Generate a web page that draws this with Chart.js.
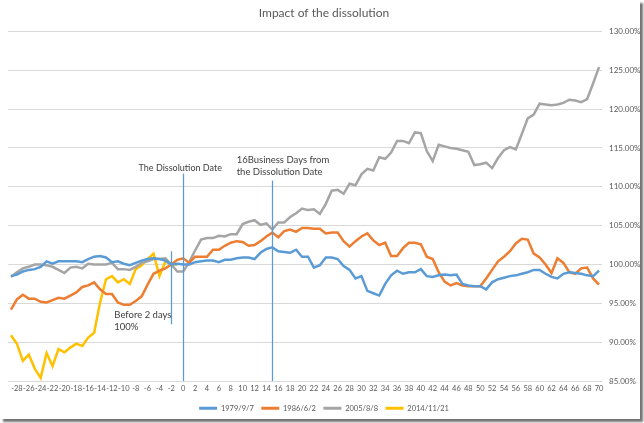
<!DOCTYPE html>
<html>
<head>
<meta charset="utf-8">
<script src="https://cdn.jsdelivr.net/npm/chart.js@4.4.0/dist/chart.umd.min.js"></script>
<style>
  body { margin: 0; background: #fff; }
  #wrap { position: relative; width: 644px; height: 423px; background: #fff; }
  #frame { position: absolute; left: 0; top: 0; width: 640px; height: 419px; box-shadow: 3px 3px 2px rgba(0,0,0,0.55); pointer-events: none; }
</style>
</head>
<body>
<div id="wrap"><canvas id="impactChart"></canvas><div id="frame"></div></div>
<script>
// business days relative to the dissolution date
const days = [-29, -28, -27, -26, -25, -24, -23, -22, -21, -20, -19, -18, -17, -16, -15, -14, -13, -12, -11, -10,
  -9, -8, -7, -6, -5, -4, -3, -2, -1, 0, 1, 2, 3, 4, 5, 6, 7, 8, 9, 10,
  11, 12, 13, 14, 15, 16, 17, 18, 19, 20, 21, 22, 23, 24, 25, 26, 27, 28, 29, 30,
  31, 32, 33, 34, 35, 36, 37, 38, 39, 40, 41, 42, 43, 44, 45, 46, 47, 48, 49, 50,
  51, 52, 53, 54, 55, 56, 57, 58, 59, 60, 61, 62, 63, 64, 65, 66, 67, 68, 69, 70];

const xTicks = [-28, -26, -24, -22, -20, -18, -16, -14, -12, -10, -8, -6, -4, -2, 0, 2, 4, 6, 8, 10,
  12, 14, 16, 18, 20, 22, 24, 26, 28, 30, 32, 34, 36, 38, 40, 42, 44, 46, 48, 50,
  52, 54, 56, 58, 60, 62, 64, 66, 68, 70];
const yTicks = [85, 90, 95, 100, 105, 110, 115, 120, 125, 130];

const seriesNames = ['1979/9/7', '1986/6/2', '2005/8/8', '2014/11/21'];

// % of the close 2 days before the dissolution
const s1979 = [98.5, 98.7, 99.1, 99.3, 99.4, 99.7, 100.4, 100.1, 100.4, 100.4,
  100.4, 100.4, 100.3, 100.7, 101.0, 101.1, 100.9, 100.3, 100.4, 100.1,
  99.9, 100.2, 100.5, 100.7, 100.8, 100.7, 100.5, 100.0, 100.1, 100.0,
  100.0, 100.3, 100.4, 100.5, 100.5, 100.3, 100.6, 100.6, 100.8, 100.9,
  100.9, 100.7, 101.5, 102.0, 102.2, 101.7, 101.6, 101.5, 101.9, 101.0,
  101.0, 99.6, 99.9, 100.9, 100.9, 100.7, 99.8, 99.3, 98.2, 98.5,
  96.6, 96.3, 96.0, 97.5, 98.6, 99.2, 98.8, 99.0, 99.0, 99.4,
  98.5, 98.4, 98.6, 98.7, 98.6, 98.7, 97.5, 97.3, 97.2, 97.2,
  96.8, 97.7, 98.1, 98.3, 98.5, 98.6, 98.8, 99.0, 99.3, 99.3,
  98.8, 98.4, 98.2, 98.8, 99.0, 98.9, 98.8, 98.6, 98.5, 99.2];

const s1986 = [94.2, 95.5, 96.1, 95.6, 95.6, 95.2, 95.1, 95.4, 95.7, 95.6,
  96.0, 96.4, 97.1, 97.3, 97.7, 96.8, 96.2, 96.2, 95.1, 94.8,
  94.8, 95.3, 95.9, 97.4, 98.8, 99.2, 99.5, 100.0, 100.6, 100.8,
  100.2, 101.0, 101.0, 101.0, 101.9, 101.9, 102.4, 102.8, 103.0, 102.9,
  102.4, 102.5, 103.0, 103.6, 104.1, 103.5, 104.3, 104.5, 104.2, 104.7,
  104.7, 104.6, 104.6, 104.0, 104.1, 104.1, 103.0, 102.3, 103.0, 103.6,
  104.0, 103.1, 102.5, 102.8, 101.1, 101.1, 102.1, 102.8, 102.8, 102.6,
  101.0, 100.7, 99.0, 97.8, 97.3, 97.6, 97.3, 97.2, 97.2, 97.2,
  98.2, 99.3, 100.4, 101.0, 101.7, 102.7, 103.3, 103.2, 101.4, 100.9,
  100.0, 98.9, 100.8, 100.2, 99.0, 98.8, 99.5, 99.6, 98.2, 97.4];

const s2005 = [98.4, 99.0, 99.5, 99.7, 100.0, 100.0, 99.9, 99.7, 99.3, 98.9,
  99.6, 99.7, 99.5, 100.1, 100.0, 100.0, 100.0, 100.2, 99.4, 99.4,
  99.3, 99.7, 100.2, 100.4, 100.7, 100.7, 100.8, 100.0, 99.1, 99.1,
  100.3, 101.8, 103.2, 103.4, 103.4, 103.7, 103.6, 103.9, 103.9, 105.2,
  105.5, 105.7, 105.1, 105.3, 104.5, 105.4, 105.4, 106.1, 106.6, 107.2,
  107.0, 107.1, 106.5, 107.8, 109.5, 109.6, 109.1, 110.4, 110.2, 111.6,
  112.3, 112.1, 113.8, 113.6, 114.4, 115.9, 115.9, 115.6, 117.0, 116.9,
  114.6, 113.3, 115.4, 115.2, 115.0, 114.9, 114.7, 114.5, 112.8, 112.9,
  113.1, 112.4, 113.7, 114.7, 115.1, 114.8, 116.8, 118.8, 119.3, 120.7,
  120.6, 120.5, 120.6, 120.8, 121.2, 121.1, 120.9, 121.3, 123.3, 125.4];

// only up to the day before the dissolution
const s2014 = [90.9, 89.8, 87.6, 88.4, 86.6, 85.4, 88.6, 86.9, 89.1, 88.7,
  89.3, 89.8, 89.5, 90.6, 91.2, 95.1, 98.1, 98.5, 97.7, 98.1,
  97.5, 99.4, 99.9, 100.7, 101.4, 98.5, 100.4, 100.0, 100.0];

const colors = ['#5B9BD5', '#ED7D31', '#A5A5A5', '#FFC000'];
const FONT = 'Lato, "Open Sans", sans-serif';

function toPoints(values) {
  return values.map((v, i) => ({ x: days[i], y: v }));
}

// vertical marker lines and their captions
const markers = {
  id: 'markers',
  afterDatasetsDraw(chart) {
    const { ctx, scales: { x, y } } = chart;
    ctx.save();
    ctx.strokeStyle = '#5B9BD5';
    ctx.lineWidth = 1.25;
    [[0, 111.7], [15, 110.8]].forEach(([d, top]) => {
      const px = Math.round(x.getPixelForValue(d)) + 0.5;
      ctx.beginPath();
      ctx.moveTo(px, y.getPixelForValue(top));
      ctx.lineTo(px, y.bottom);
      ctx.stroke();
    });
    const bx = Math.round(x.getPixelForValue(-2)) + 0.5;
    ctx.beginPath();
    ctx.moveTo(bx, y.getPixelForValue(101.7));
    ctx.lineTo(bx, y.getPixelForValue(92.3));
    ctx.stroke();

    ctx.fillStyle = '#404040';
    ctx.textBaseline = 'middle';
    ctx.textAlign = 'center';
    ctx.font = '9px ' + FONT;
    ctx.fillText('The Dissolution Date', x.getPixelForValue(-0.5), y.getPixelForValue(112.4));
    ctx.textAlign = 'left';
    ctx.font = '9.5px ' + FONT;
    ctx.fillText('16Business Days from', x.getPixelForValue(9.0), y.getPixelForValue(113.4));
    ctx.fillText('the Dissolution Date', x.getPixelForValue(9.0), y.getPixelForValue(111.9));
    ctx.fillText('Before 2 days', x.getPixelForValue(-11.6), y.getPixelForValue(93.5));
    ctx.fillText('100%', x.getPixelForValue(-11.6), y.getPixelForValue(92.0));
    ctx.restore();
  }
};

const series = [s1979, s1986, s2005, s2014];

new Chart(document.getElementById('impactChart'), {
  type: 'line',
  data: {
    datasets: series.map((s, i) => ({
      label: seriesNames[i],
      data: toPoints(s),
      borderColor: colors[i],
      backgroundColor: colors[i],
      borderWidth: 2.5,
      pointRadius: 0,
      tension: 0
    }))
  },
  options: {
    responsive: true,
    maintainAspectRatio: false,
    animation: false,
    layout: { padding: { left: 8, right: 4, top: 0, bottom: 1 } },
    plugins: {
      title: {
        display: true,
        text: 'Impact of the dissolution',
        color: '#595959',
        font: { family: FONT, size: 12, weight: 'normal' },
        padding: { top: 6, bottom: 11 }
      },
      legend: {
        position: 'bottom',
        labels: {
          color: '#595959',
          font: { family: FONT, size: 7.5 },
          boxWidth: 18,
          boxHeight: 3,
          padding: 7.5,
          generateLabels(chart) {
            const items = Chart.defaults.plugins.legend.labels.generateLabels(chart);
            items.forEach(it => { it.lineWidth = 0; it.fillStyle = it.strokeStyle; });
            return items;
          }
        }
      },
      tooltip: { enabled: false }
    },
    scales: {
      x: {
        type: 'linear',
        min: -29.5,
        max: 70.5,
        grid: { display: false, drawTicks: false },
        border: { display: false },
        afterBuildTicks(scale) { scale.ticks = xTicks.map(v => ({ value: v })); },
        afterFit(scale) { scale.height = 16; },
        ticks: {
          autoSkip: false,
          maxRotation: 0,
          padding: 3,
          color: '#595959',
          font: { family: FONT, size: 7.5 }
        }
      },
      y: {
        position: 'right',
        min: 85,
        max: 130,
        afterBuildTicks(scale) { scale.ticks = yTicks.map(v => ({ value: v })); },
        afterFit(scale) { scale.width = 38; },
        grid: { color: '#D9D9D9', drawTicks: false },
        border: { display: false },
        ticks: {
          padding: 7,
          color: '#595959',
          font: { family: FONT, size: 8 },
          callback: v => v.toFixed(2) + '%'
        }
      }
    }
  },
  plugins: [markers]
});
</script>
</body>
</html>
